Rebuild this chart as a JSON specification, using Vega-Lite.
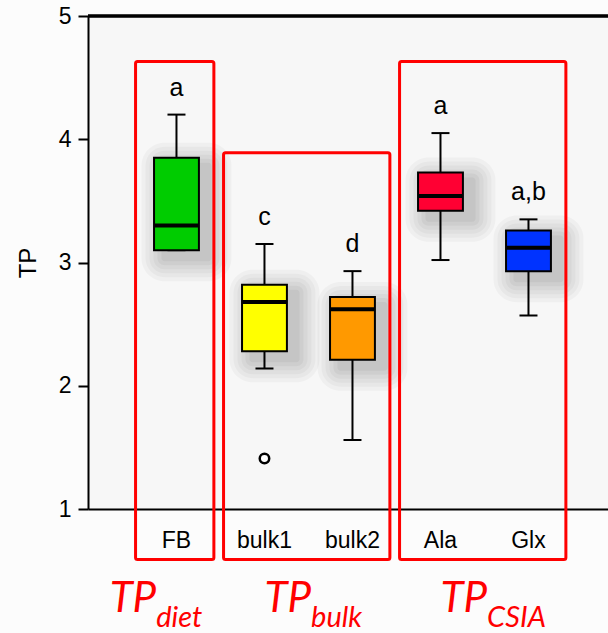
{
  "$schema": "https://vega.github.io/schema/vega-lite/v6.json",
  "width": 520,
  "height": 493,
  "autosize": {"type": "none"},
  "padding": {"left": 88, "top": 16, "right": 0, "bottom": 124},
  "background": "#fcfcfc",
  "config": {
    "view": {"stroke": null, "fill": "#f7f7f7"},
    "font": "Liberation Sans",
    "axisX": {"domain": true, "domainColor": "#000000", "domainWidth": 2, "ticks": false, "labelFontSize": 23, "labelColor": "#000000", "labelPadding": 20, "labelAngle": 0, "grid": false, "labelFont": "Liberation Sans"},
    "axisY": {"domain": true, "domainColor": "#000000", "domainWidth": 2, "ticks": true, "tickColor": "#000000", "tickWidth": 2, "tickSize": 10, "labelFontSize": 23, "labelColor": "#000000", "labelPadding": 7, "titleFontSize": 24, "titleFontWeight": "normal", "titleColor": "#000000", "titlePadding": 18, "grid": false, "labelFont": "Liberation Sans", "titleFont": "Liberation Sans"}
  },
  "datasets": {
    "boxes": [
      {"cat": "FB", "lo": 3.10, "q1": 3.10, "med": 3.30, "q3": 3.85, "hi": 4.20, "sig": "a"},
      {"cat": "bulk1", "lo": 2.14, "q1": 2.28, "med": 2.68, "q3": 2.82, "hi": 3.15, "sig": "c"},
      {"cat": "bulk2", "lo": 1.56, "q1": 2.21, "med": 2.62, "q3": 2.72, "hi": 2.93, "sig": "d"},
      {"cat": "Ala", "lo": 3.02, "q1": 3.42, "med": 3.54, "q3": 3.73, "hi": 4.05, "sig": "a"},
      {"cat": "Glx", "lo": 2.57, "q1": 2.93, "med": 3.12, "q3": 3.26, "hi": 3.35, "sig": "a,b"}
    ],
    "outliers": [{"cat": "bulk1", "value": 1.41}],
    "groups": [
      {"group": "diet", "from": "FB", "to": "FB", "top": 4.63},
      {"group": "bulk", "from": "bulk1", "to": "bulk2", "top": 3.89},
      {"group": "CSIA", "from": "Ala", "to": "Glx", "top": 4.63}
    ]
  },
  "layer": [
    {
      "data": {"name": "boxes"},
      "mark": {"type": "bar", "width": {"band": 1.023}, "xOffset": 10, "yOffset": 31, "y2Offset": -15, "cornerRadius": 23, "fill": "#000000", "opacity": 0.03},
      "encoding": {
        "x": {"field": "cat", "type": "nominal", "title": null, "scale": {"domain": ["FB", "bulk1", "bulk2", "Ala", "Glx"], "paddingInner": 0, "paddingOuter": 0.4545, "align": 0.556}},
        "y": {"field": "q1", "type": "quantitative", "title": "TP", "scale": {"domain": [1, 5], "nice": false, "zero": false}, "axis": {"values": [1, 2, 3, 4, 5], "format": "d"}},
        "y2": {"field": "q3"}
      }
    },
    {
      "data": {"name": "boxes"},
      "mark": {"type": "bar", "width": {"band": 0.932}, "xOffset": 10, "yOffset": 27, "y2Offset": -11, "cornerRadius": 19, "fill": "#000000", "opacity": 0.03},
      "encoding": {
        "x": {"field": "cat", "type": "nominal", "title": null},
        "y": {"field": "q1", "type": "quantitative", "title": "TP"},
        "y2": {"field": "q3"}
      }
    },
    {
      "data": {"name": "boxes"},
      "mark": {"type": "bar", "width": {"band": 0.841}, "xOffset": 10, "yOffset": 23, "y2Offset": -7, "cornerRadius": 15, "fill": "#000000", "opacity": 0.03},
      "encoding": {
        "x": {"field": "cat", "type": "nominal", "title": null},
        "y": {"field": "q1", "type": "quantitative", "title": "TP"},
        "y2": {"field": "q3"}
      }
    },
    {
      "data": {"name": "boxes"},
      "mark": {"type": "bar", "width": {"band": 0.75}, "xOffset": 10, "yOffset": 19, "y2Offset": -3, "cornerRadius": 11, "fill": "#000000", "opacity": 0.035},
      "encoding": {
        "x": {"field": "cat", "type": "nominal", "title": null},
        "y": {"field": "q1", "type": "quantitative", "title": "TP"},
        "y2": {"field": "q3"}
      }
    },
    {
      "data": {"name": "boxes"},
      "mark": {"type": "bar", "width": {"band": 0.659}, "xOffset": 10, "yOffset": 15, "y2Offset": 1, "cornerRadius": 7, "fill": "#000000", "opacity": 0.04},
      "encoding": {
        "x": {"field": "cat", "type": "nominal", "title": null},
        "y": {"field": "q1", "type": "quantitative", "title": "TP"},
        "y2": {"field": "q3"}
      }
    },
    {
      "data": {"name": "boxes"},
      "mark": {"type": "bar", "width": {"band": 0.568}, "xOffset": 10, "yOffset": 11, "y2Offset": 5, "cornerRadius": 3, "fill": "#000000", "opacity": 0.045},
      "encoding": {
        "x": {"field": "cat", "type": "nominal", "title": null},
        "y": {"field": "q1", "type": "quantitative", "title": "TP"},
        "y2": {"field": "q3"}
      }
    },
    {
      "data": {"name": "groups"},
      "mark": {"type": "rect", "fill": "transparent", "stroke": "#ff0000", "strokeWidth": 3, "cornerRadius": 2},
      "encoding": {
        "x": {"field": "from", "type": "nominal", "bandPosition": 0.035, "title": null},
        "x2": {"field": "to", "bandPosition": 0.925},
        "y": {"field": "top", "type": "quantitative", "title": "TP"},
        "y2": {"datum": 0.59}
      }
    },
    {
      "data": {"name": "boxes"},
      "mark": {"type": "rule", "color": "#000000", "strokeWidth": 2},
      "encoding": {
        "x": {"field": "cat", "type": "nominal", "title": null},
        "y": {"field": "lo", "type": "quantitative", "title": "TP"},
        "y2": {"field": "q1"}
      }
    },
    {
      "data": {"name": "boxes"},
      "mark": {"type": "rule", "color": "#000000", "strokeWidth": 2},
      "encoding": {
        "x": {"field": "cat", "type": "nominal", "title": null},
        "y": {"field": "q3", "type": "quantitative", "title": "TP"},
        "y2": {"field": "hi"}
      }
    },
    {
      "data": {"name": "boxes"},
      "mark": {"type": "tick", "color": "#000000", "size": 18, "thickness": 2, "opacity": 1},
      "encoding": {
        "x": {"field": "cat", "type": "nominal", "title": null},
        "y": {"field": "hi", "type": "quantitative", "title": "TP"}
      }
    },
    {
      "data": {"name": "boxes"},
      "mark": {"type": "tick", "color": "#000000", "size": 18, "thickness": 2, "opacity": 1},
      "encoding": {
        "x": {"field": "cat", "type": "nominal", "title": null},
        "y": {"field": "lo", "type": "quantitative", "title": "TP"}
      }
    },
    {
      "data": {"name": "boxes"},
      "mark": {"type": "bar", "width": {"band": 0.51}, "stroke": "#000000", "strokeWidth": 2, "fillOpacity": 1, "opacity": 1},
      "encoding": {
        "x": {"field": "cat", "type": "nominal", "title": null},
        "y": {"field": "q1", "type": "quantitative", "title": "TP"},
        "y2": {"field": "q3"},
        "fill": {"field": "cat", "type": "nominal", "legend": null, "scale": {"domain": ["FB", "bulk1", "bulk2", "Ala", "Glx"], "range": ["#00cc00", "#ffff00", "#ff9900", "#ff0033", "#0033ff"]}}
      }
    },
    {
      "data": {"name": "boxes"},
      "mark": {"type": "tick", "color": "#000000", "size": 44, "thickness": 4, "opacity": 1},
      "encoding": {
        "x": {"field": "cat", "type": "nominal", "title": null},
        "y": {"field": "med", "type": "quantitative", "title": "TP"}
      }
    },
    {
      "data": {"name": "outliers"},
      "mark": {"type": "point", "shape": "circle", "filled": false, "fill": "#ffffff", "stroke": "#000000", "strokeWidth": 2.5, "size": 90, "opacity": 1},
      "encoding": {
        "x": {"field": "cat", "type": "nominal", "title": null},
        "y": {"field": "value", "type": "quantitative", "title": "TP"}
      }
    },
    {
      "data": {"name": "boxes"},
      "mark": {"type": "text", "fontSize": 25, "baseline": "alphabetic", "dy": -19, "color": "#000000", "font": "Liberation Sans"},
      "encoding": {
        "x": {"field": "cat", "type": "nominal", "title": null},
        "y": {"field": "hi", "type": "quantitative", "title": "TP"},
        "text": {"field": "sig"}
      }
    },
    {
      "data": {"name": "groups"},
      "transform": [{"filter": "datum.group == 'diet'"}],
      "mark": {"type": "text", "fontSize": 42, "font": "Lato", "fontStyle": "italic", "align": "right", "baseline": "alphabetic", "color": "#ff0000"},
      "encoding": {
        "x": {"field": "from", "type": "nominal", "bandPosition": 0.27, "title": null},
        "y": {"datum": 0.165, "title": "TP"},
        "text": {"value": "TP"}
      }
    },
    {
      "data": {"name": "groups"},
      "transform": [{"filter": "datum.group == 'diet'"}],
      "mark": {"type": "text", "fontSize": 29, "font": "Lato", "fontStyle": "italic", "align": "left", "baseline": "alphabetic", "color": "#ff0000"},
      "encoding": {
        "x": {"field": "from", "type": "nominal", "bandPosition": 0.27, "title": null},
        "y": {"datum": 0.045, "title": "TP"},
        "text": {"field": "group"}
      }
    },
    {
      "data": {"name": "groups"},
      "transform": [{"filter": "datum.group != 'diet'"}],
      "mark": {"type": "text", "fontSize": 42, "font": "Lato", "fontStyle": "italic", "align": "right", "baseline": "alphabetic", "color": "#ff0000"},
      "encoding": {
        "x": {"field": "to", "type": "nominal", "bandPosition": 0.03, "title": null},
        "y": {"datum": 0.165, "title": "TP"},
        "text": {"value": "TP"}
      }
    },
    {
      "data": {"name": "groups"},
      "transform": [{"filter": "datum.group != 'diet'"}],
      "mark": {"type": "text", "fontSize": 29, "font": "Lato", "fontStyle": "italic", "align": "left", "baseline": "alphabetic", "color": "#ff0000"},
      "encoding": {
        "x": {"field": "to", "type": "nominal", "bandPosition": 0.03, "title": null},
        "y": {"datum": 0.045, "title": "TP"},
        "text": {"field": "group"}
      }
    },
    {
      "data": {"name": "boxes"},
      "mark": {"type": "rule", "color": "#000000", "strokeWidth": 2.5},
      "encoding": {
        "y": {"datum": 5, "title": "TP"}
      }
    }
  ]
}
